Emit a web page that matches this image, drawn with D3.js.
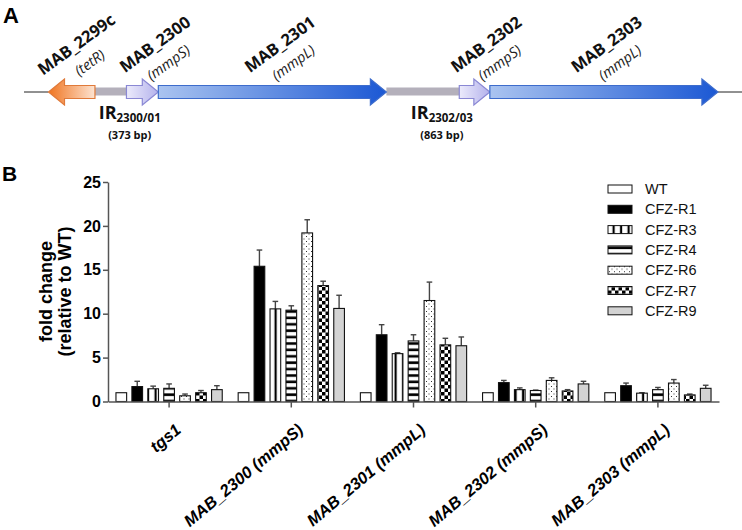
<!DOCTYPE html>
<html><head><meta charset="utf-8">
<script src="https://cdn.jsdelivr.net/npm/d3@7"></script>
<style>body{margin:0;background:#fff;} svg{display:block;}</style>
</head><body><svg id="c" width="742" height="530"></svg>
<script>
// ---------- DATA: panel B ----------
const groups  = ["tgs1","MAB_2300 (mmpS)","MAB_2301 (mmpL)","MAB_2302 (mmpS)","MAB_2303 (mmpL)"];
const strains = ["WT","CFZ-R1","CFZ-R3","CFZ-R4","CFZ-R6","CFZ-R7","CFZ-R9"];
const valWT = [1,1,1,1,1];
const errWT = [0,0,0,0,0];
const valR1 = [1.7,15.4,7.6,2.15,1.8];
const errR1 = [0.6,1.85,1.15,0.25,0.3];
const valR3 = [1.45,10.55,5.45,1.35,0.95];
const errR3 = [0.3,0.85,0.1,0.2,0.05];
const valR4 = [1.5,10.4,6.9,1.25,1.35];
const errR4 = [0.5,0.5,0.7,0.05,0.25];
const valR6 = [0.65,19.2,11.5,2.4,2.1];
const errR6 = [0.2,1.5,2.1,0.3,0.4];
const valR7 = [1.0,13.2,6.45,1.2,0.75];
const errR7 = [0.25,0.5,0.75,0.15,0.1];
const valR9 = [1.35,10.6,6.35,2.0,1.5];
const errR9 = [0.45,1.5,1.0,0.3,0.35];
const yTicks = [0,5,10,15,20,25];
const yLabel = ["fold change","(relative to WT)"];

// ---------- DATA: panel A (gene map, bp) ----------
const locusLength = 8500;
const geneNames    = ["MAB_2299c","MAB_2300","MAB_2301","MAB_2302","MAB_2303"];
const geneProducts = ["tetR","mmpS","mmpL","mmpS","mmpL"];
const geneStart    = [290,1213,1590,5153,5515];
const geneEnd      = [840,1590,4290,5515,8215];
const geneStrand   = [-1,1,1,1,1];
const irNames   = ["2300/01","2302/03"];
const irLengths = [373,863];

// ---------- LAYOUT ----------
const svg = d3.select("#c");
const W = 742, H = 530;
svg.append("rect").attr("width",W).attr("height",H).attr("fill","#fff");
const defs = svg.append("defs");

function pat(id,w,h,build){const p=defs.append("pattern").attr("id",id).attr("patternUnits","userSpaceOnUse").attr("width",w).attr("height",h);p.append("rect").attr("width",w).attr("height",h).attr("fill","#fff");build(p);}
pat("pV",7.5,10,p=>p.append("rect").attr("x",4.5).attr("width",2.2).attr("height",10).attr("fill","#000"));
pat("pH",10,6.4,p=>p.append("rect").attr("y",3).attr("width",10).attr("height",2.6).attr("fill","#000"));
pat("pD",5,5,p=>{p.append("rect").attr("x",1).attr("y",1).attr("width",1).attr("height",1).attr("fill","#333");p.append("rect").attr("x",3.5).attr("y",3.5).attr("width",1).attr("height",1).attr("fill","#333");});
pat("pC",7,7,p=>{p.append("rect").attr("width",3.5).attr("height",3.5).attr("fill","#000");p.append("rect").attr("x",3.5).attr("y",3.5).attr("width",3.5).attr("height",3.5).attr("fill","#000");});
const fills = ["#fff","#000","url(#pV)","url(#pH)","url(#pD)","url(#pC)","#d3d3d3"];

function grad(id,c0,c1){const g=defs.append("linearGradient").attr("id",id).attr("x1","0%").attr("x2","100%").attr("y1","0%").attr("y2","0%");g.append("stop").attr("offset","0%").attr("stop-color",c0);g.append("stop").attr("offset","100%").attr("stop-color",c1);}
grad("gTet","#f0741f","#fde4d2");
grad("gS","#ecebfb","#b4b2ec");
grad("gL","#aac4f0","#1b58d4");
const geneStyle = {tetR:{fill:"url(#gTet)",stroke:"#e07a3a"},mmpS:{fill:"url(#gS)",stroke:"#8a88d4"},mmpL:{fill:"url(#gL)",stroke:"#3d6ccc"}};

// ---------- PANEL A ----------
const arial = "'Liberation Sans', Arial, sans-serif";
const humanist = "'Open Sans', 'Noto Sans', sans-serif";
svg.append("text").attr("x",3).attr("y",23).attr("font-family",arial).attr("font-weight","bold").attr("font-size",22).text("A");

const gx = d3.scaleLinear().domain([0,locusLength]).range([24,742]);
const cy = 92, bh = 6.5, hh = 13, hl = 16;
const gA = svg.append("g");
gA.append("line").attr("x1",gx(0)).attr("x2",gx(geneStart[0])).attr("y1",cy).attr("y2",cy).attr("stroke","#222").attr("stroke-width",1);
gA.append("line").attr("x1",gx(geneEnd[4])).attr("x2",gx(locusLength)).attr("y1",cy).attr("y2",cy).attr("stroke","#222").attr("stroke-width",1);
const irStart = [geneEnd[0], geneEnd[2]];
irStart.forEach((s,i)=>{
  const xa = gx(s), xb = gx(s+irLengths[i]);
  gA.append("rect").attr("x",xa).attr("y",cy-4.5).attr("width",xb-xa).attr("height",8).attr("fill","#b4b0bb");
  const lx = (xa+xb)/2 + 19;
  const t = gA.append("text").attr("x",lx).attr("y",119).attr("text-anchor","middle").attr("font-family",humanist).attr("font-weight","bold").attr("fill","#111");
  t.append("tspan").attr("font-size",18).text("IR");
  t.append("tspan").attr("font-size",11.5).attr("dy",3).text(irNames[i]);
  gA.append("text").attr("x",lx).attr("y",139).attr("text-anchor","middle").attr("font-family",humanist).attr("font-weight","bold").attr("font-size",11).attr("fill","#111").text(`(${irLengths[i]} bp)`);
});
const labelShift = [8,16,11,15,6];
geneNames.forEach((n,i)=>{
  let a = gx(geneStart[i]), b = gx(geneEnd[i]);
  let pts;
  if (geneStrand[i]>0) pts = [[a,cy-bh],[b-hl,cy-bh],[b-hl,cy-hh],[b,cy],[b-hl,cy+hh],[b-hl,cy+bh],[a,cy+bh]];
  else pts = [[b,cy-bh],[a+hl,cy-bh],[a+hl,cy-hh],[a,cy],[a+hl,cy+hh],[a+hl,cy+bh],[b,cy+bh]];
  const st = geneStyle[geneProducts[i]];
  gA.append("path").attr("d",d3.line()(pts)+"Z").attr("fill",st.fill).attr("stroke",st.stroke).attr("stroke-width",1.2);
  const lg = gA.append("g").attr("transform",`translate(${(a+b)/2+labelShift[i]},49) rotate(-36)`);
  lg.append("text").attr("text-anchor","middle").attr("font-family",humanist).attr("font-weight","bold").attr("font-size",16.5).attr("fill","#111").text(n);
  lg.append("text").attr("y",22).attr("text-anchor","middle").attr("font-family",humanist).attr("font-style","italic").attr("font-size",14.5).attr("fill","#222").text(`(${geneProducts[i]})`);
});

// ---------- PANEL B ----------
svg.append("text").attr("x",2).attr("y",181).attr("font-family",arial).attr("font-weight","bold").attr("font-size",21).text("B");

const x0 = d3.scaleBand().domain(groups).range([108,719]);
const x1 = d3.scaleBand().domain(strains).range([0,x0.bandwidth()]).paddingInner(0.33).paddingOuter(0.5);
const y = d3.scaleLinear().domain([0,25]).range([401.5,182]);

const vals = [valWT,valR1,valR3,valR4,valR6,valR7,valR9];
const errs = [errWT,errR1,errR3,errR4,errR6,errR7,errR9];
const rows = [];
groups.forEach((g,gi)=>strains.forEach((s,si)=>rows.push({g,s,si,v:vals[si][gi],e:errs[si][gi]})));

const gB = svg.append("g");
const cx = d=>x0(d.g)+x1(d.s)+x1.bandwidth()/2;
const eb = gB.selectAll("g.eb").data(rows.filter(d=>d.e>0)).join("g").attr("class","eb");
eb.append("line").attr("x1",cx).attr("x2",cx).attr("y1",d=>y(d.v)).attr("y2",d=>y(d.v+d.e)).attr("stroke","#444").attr("stroke-width",1.4);
eb.append("line").attr("x1",d=>cx(d)-2.8).attr("x2",d=>cx(d)+2.8).attr("y1",d=>y(d.v+d.e)).attr("y2",d=>y(d.v+d.e)).attr("stroke","#444").attr("stroke-width",1.4);
gB.selectAll("rect.bar").data(rows).join("rect").attr("class","bar")
  .attr("x",d=>x0(d.g)+x1(d.s)).attr("width",x1.bandwidth())
  .attr("y",d=>y(d.v)).attr("height",d=>y(0)-y(d.v))
  .attr("fill",d=>fills[d.si]).attr("stroke","#111").attr("stroke-width",1.1);

const yAxis = svg.append("g").attr("transform","translate(108,0)")
  .call(d3.axisLeft(y).tickValues(yTicks).tickSize(5).tickSizeOuter(0).tickPadding(2));
yAxis.selectAll("text").attr("font-family",arial).attr("font-weight","bold").attr("font-size",16).attr("fill","#000");
const xAxis = svg.append("g").attr("transform",`translate(0,${y(0)})`)
  .call(d3.axisBottom(x0).tickSize(6).tickSizeOuter(0));
xAxis.selectAll("text").attr("font-family",arial).attr("font-weight","bold").attr("font-style","italic").attr("font-size",16.5).attr("fill","#000")
  .attr("text-anchor","end").attr("x",0).attr("y",0).attr("dy",0).attr("transform","translate(13,30) rotate(-40)");
[yAxis,xAxis].forEach(a=>{a.selectAll("path,line").attr("stroke","#555").attr("stroke-width",1.5);});

const yl = svg.append("text").attr("transform",`translate(0,291.5) rotate(-90)`).attr("text-anchor","middle")
  .attr("font-family",arial).attr("font-weight","bold").attr("font-size",18).attr("fill","#000");
yLabel.forEach((t,i)=>yl.append("tspan").attr("x",0).attr("y",52+i*19).text(t));

const lg = svg.append("g").attr("transform","translate(608,189)");
strains.forEach((s,i)=>{
  const r = lg.append("g").attr("transform",`translate(0,${i*20.3})`);
  r.append("rect").attr("x",0).attr("y",-4).attr("width",24).attr("height",8).attr("fill",fills[i]).attr("stroke","#111").attr("stroke-width",1);
  r.append("text").attr("x",37).attr("y",0).attr("dy","0.35em").attr("font-family",arial).attr("font-size",14.5).attr("fill","#111").text(s);
});
</script></body></html>
